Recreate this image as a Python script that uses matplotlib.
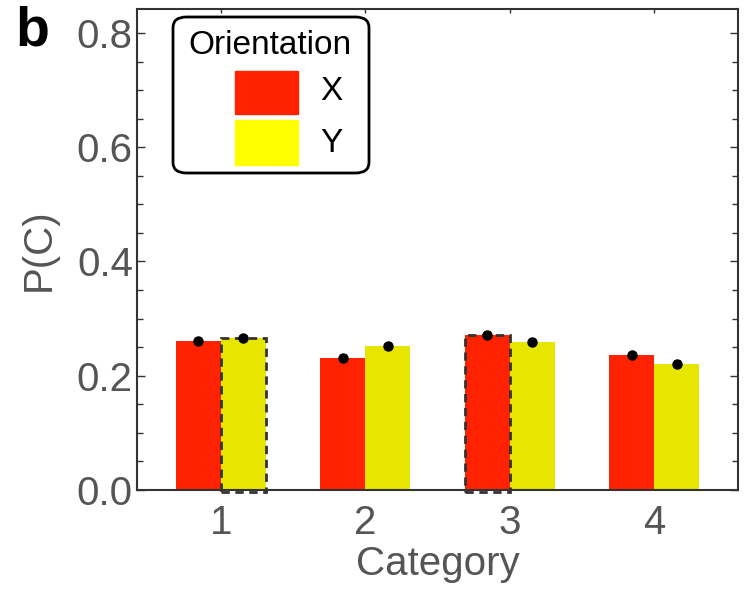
import numpy as np
import matplotlib.pyplot as plt
from matplotlib.patches import FancyBboxPatch, Rectangle
from matplotlib.ticker import MultipleLocator

plt.rcParams['font.family'] = ['Liberation Sans', 'DejaVu Sans']

categories = [1, 2, 3, 4]
p_x = [0.261, 0.231, 0.271, 0.236]
p_y = [0.266, 0.252, 0.259, 0.221]
err_x = [0.004, 0.006, 0.005, 0.004]
err_y = [0.004, 0.006, 0.005, 0.004]
# bars with dashed outline: (series, category index)
highlighted = [('Y', 0), ('X', 2)]

red = '#ff2200'
yellow = '#e6e600'
gray = '#555555'

fig = plt.figure(figsize=(7.44, 5.92), dpi=100)
ax = fig.add_axes([137/744, 1 - 490/592, (738-137)/744, (490-9)/592])

w = 0.31
pos = np.array(categories, dtype=float)
ax.bar(pos - w/2, p_x, w, color=red, zorder=2)
ax.bar(pos + w/2, p_y, w, color=yellow, zorder=2)
ax.errorbar(pos - w/2, p_x, yerr=err_x, fmt='o', color='black', ms=6.5,
            capsize=2.5, elinewidth=2, capthick=2, zorder=4)
ax.errorbar(pos + w/2, p_y, yerr=err_y, fmt='o', color='black', ms=6.5,
            capsize=2.5, elinewidth=2, capthick=2, zorder=4)

for series, i in highlighted:
    if series == 'X':
        x0, h = pos[i] - w, p_x[i]
    else:
        x0, h = pos[i], p_y[i]
    ax.add_patch(Rectangle((x0, -0.004), w, h + 0.004, fill=False,
                           edgecolor='#333333', lw=2, ls=(0, (3, 2)),
                           clip_on=False, zorder=3))

ax.set_xlim(0.42, 4.58)
ax.set_ylim(0, 0.842)
ax.set_xticks(categories)
ax.yaxis.set_major_locator(MultipleLocator(0.2))
ax.yaxis.set_minor_locator(MultipleLocator(0.05))
ax.yaxis.set_major_formatter(plt.FuncFormatter(lambda v, _: f'{v:.1f}'))
ax.tick_params(axis='both', which='both', direction='in', top=True, right=True,
               colors='#333333', labelcolor=gray, labelsize=29, width=1)
ax.tick_params(axis='y', which='major', length=6, pad=3)
ax.tick_params(axis='y', which='minor', length=4)
ax.tick_params(axis='x', length=3, pad=10)
for s in ax.spines.values():
    s.set_color('#333333')
    s.set_linewidth(1.5)

ax.set_xlabel('Category', fontsize=29, color=gray, labelpad=2)
ax.set_ylabel('P(C)', fontsize=29, color=gray, labelpad=14)

fig.text(15/744, 1 - 32/592, 'b', fontsize=40, fontweight='bold',
         ha='left', va='center')

# legend box drawn in figure coordinates
def fx(px):
    return px / 744

def fy(py):
    return 1 - py / 592

box = FancyBboxPatch((fx(173), fy(173)), fx(369) - fx(173), fy(17) - fy(173),
                     boxstyle='round,pad=0,rounding_size=0.018',
                     transform=fig.transFigure, facecolor='white',
                     edgecolor='black', lw=2, zorder=5)
fig.add_artist(box)
fig.text(fx(270), fy(45), 'Orientation', fontsize=24, ha='center',
         va='center', zorder=6)
fig.add_artist(Rectangle((fx(235), fy(114)), fx(63), fy(71) - fy(114),
                         transform=fig.transFigure, color=red, zorder=6))
fig.add_artist(Rectangle((fx(235), fy(165)), fx(63), fy(120) - fy(165),
                         transform=fig.transFigure, color='#ffff00', zorder=6))
fig.text(fx(331), fy(92), 'X', fontsize=24, ha='center', va='center', zorder=6)
fig.text(fx(331), fy(143), 'Y', fontsize=24, ha='center', va='center', zorder=6)

fig.savefig('out.png', dpi=100)
